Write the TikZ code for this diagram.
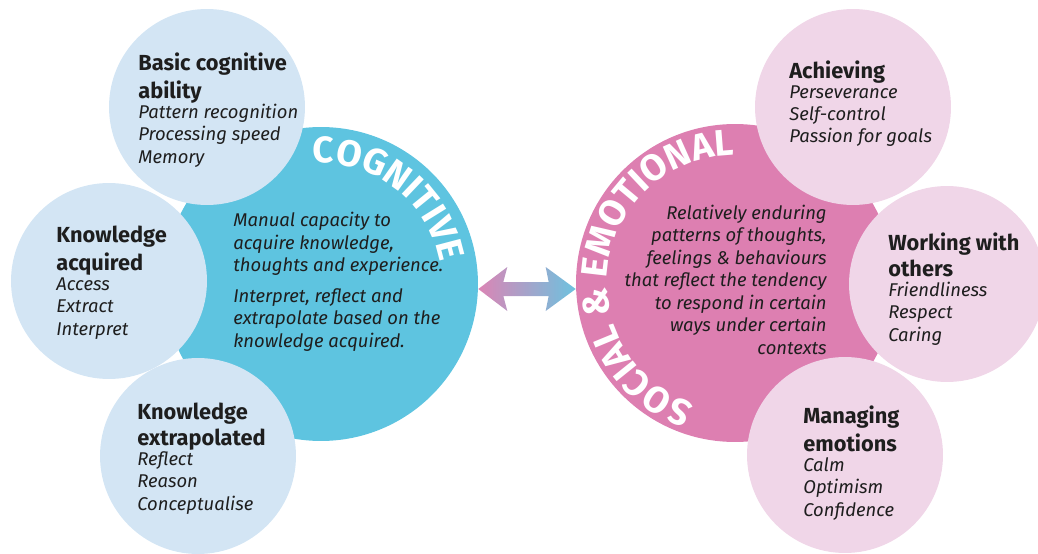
\documentclass[tikz,border=0pt]{standalone}
\usepackage{fontspec}
\setmainfont{Fira Sans}
\usetikzlibrary{calc,decorations.text}
\definecolor{cogblue}{HTML}{5EC4E0}
\definecolor{coglight}{HTML}{D3E5F4}
\definecolor{socpink}{HTML}{DD7FB1}
\definecolor{soclight}{HTML}{F0D6E8}
\definecolor{arrowpink}{HTML}{DB85B5}
\definecolor{arrowblue}{HTML}{6DC2DF}
\definecolor{inkgrey}{HTML}{1E1E1E}
\newcommand{\hd}[1]{{\fontsize{12.4}{14}\selectfont\upshape\bfseries #1}}

\begin{document}
\begin{tikzpicture}[x=0.02cm, y=0.02cm,
	big/.style={circle, minimum size=#1, inner sep=0pt},
	bubble/.style={circle, minimum size=3.92cm, inner sep=0pt},
	txt/.style={inner sep=0pt, align=left, anchor=base west, text=inkgrey, font=\fontsize{10.5}{12.8}\selectfont\itshape},
	ring/.style={decorate, decoration={text along path, text align=center, text color=white, text={|\fontsize{21}{21}\selectfont\bfseries|#1}}}]
		\useasboundingbox (0,0) rectangle (1038,-554);
		\node[big=6.28cm, fill=cogblue] (cog) at (321,-284) {};
		\node[bubble, fill=coglight] (basic) at (207,-107) {};
		\node[bubble, fill=coglight] (acq) at (109,-281) {};
		\node[bubble, fill=coglight] (extra) at (198,-456) {};
		\path[ring=COGNITIVE] ($(cog)+(107:121)$) arc[start angle=107, end angle=-3, radius=2.42cm];
		\node[big=6.36cm, fill=socpink] (soc) at (735,-283) {};
		\node[bubble, fill=soclight] (ach) at (853,-107) {};
		\node[bubble, fill=soclight] (work) at (947,-284) {};
		\node[bubble, fill=soclight] (emo) at (845,-455) {};
		\path[ring={SOCIAL {\&} EMOTIONAL}] ($(soc)+(256:128)$) arc[start angle=256, end angle=86, radius=2.56cm];
		\coordinate (al) at ($(cog.east)+(0,-5)$);
		\coordinate (ar) at ($(soc.west)+(0,-6)$);
		\shade[left color=arrowpink, right color=arrowblue] (al) -- ++(29,22) -- ++(-4,-15) -- ($(ar)+(-27,7)$) -- ++(-3,15) -- (ar) -- ++(-30,-22) -- ++(3,15) -- ($(al)+(25,-7)$) -- ++(4,-15) -- cycle;
		\node[txt] (basictxt) at (138,-163) {\hd{Basic cognitive}\\[2pt]\hd{ability}\\[-1.5pt]Pattern recognition\\Processing speed\\Memory};
		\node[txt] (acqtxt) at (56,-335) {\hd{Knowledge}\\[2pt]\hd{acquired}\\[-1.5pt]Access\\Extract\\Interpret};
		\node[txt] (extratxt) at (137,-510) {\hd{Knowledge}\\[2pt]\hd{extrapolated}\\[-1.5pt]Reflect\\Reason\\Conceptualise};
		\node[txt] (cogtxt) at (233,-347) {Manual capacity to\\acquire knowledge,\\thoughts and experience.\\[4.5pt]Interpret, reflect and\\extrapolate based on the\\knowledge acquired.};
		\node[txt, align=right, anchor=base east] (soctxt) at (827,-354) {Relatively enduring\\patterns of thoughts,\\feelings \& behaviours\\that reflect the tendency\\to respond in certain\\ways under certain\\contexts};
		\node[txt] (achtxt) at (789,-143) {\hd{Achieving}\\[-1.5pt]Perseverance\\Self-control\\Passion for goals};
		\node[txt] (worktxt) at (888,-341) {\hd{Working with}\\[2pt]\hd{others}\\[-1.5pt]Friendliness\\Respect\\Caring};
		\node[txt] (emotxt) at (803,-516) {\hd{Managing}\\[2pt]\hd{emotions}\\[-1.5pt]Calm\\Optimism\\Confidence};
	\end{tikzpicture}
\end{document}
